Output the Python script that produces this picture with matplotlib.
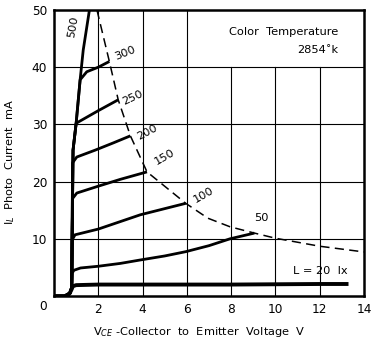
import matplotlib
matplotlib.use("Agg")
import matplotlib.pyplot as plt

# photo current curves (V in volts, I in mA)
v_20 = [0.0, 0.5, 0.7, 0.8, 0.85, 1.0, 2.0, 4.0, 6.0, 8.0, 10.0, 12.0, 13.3]
i_20 = [0.0, 0.0, 0.4, 1.2, 1.7, 1.9, 2.0, 2.0, 2.0, 2.0, 2.05, 2.1, 2.1]

v_50 = [0.5, 0.72, 0.8, 0.82, 0.9, 1.2, 2.0, 3.0, 3.9, 5.0, 5.95, 7.0, 7.95, 9.05]
i_50 = [0.0, 0.5, 1.5, 4.0, 4.5, 4.9, 5.2, 5.7, 6.3, 7.0, 7.75, 8.8, 10.0, 11.0]

v_100 = [0.5, 0.72, 0.8, 0.82, 0.95, 2.0, 3.9, 5.95]
i_100 = [0.0, 0.5, 1.5, 9.8, 10.7, 11.7, 14.2, 16.2]

v_150 = [0.5, 0.72, 0.8, 0.83, 1.03, 2.0, 3.0, 4.2]
i_150 = [0.0, 0.5, 1.5, 17.0, 18.0, 19.2, 20.4, 21.7]

v_200 = [0.5, 0.72, 0.8, 0.84, 1.03, 1.86, 2.7, 3.45]
i_200 = [0.0, 0.5, 1.5, 23.3, 24.3, 25.5, 26.8, 28.0]

v_250 = [0.5, 0.72, 0.8, 0.86, 1.0, 2.0, 2.9]
i_250 = [0.0, 0.5, 1.5, 25.5, 30.2, 32.4, 34.3]

v_300 = [0.5, 0.72, 0.8, 0.86, 1.0, 1.18, 1.48, 2.0, 2.5]
i_300 = [0.0, 0.5, 1.5, 25.5, 30.2, 37.8, 39.2, 40.0, 41.0]

v_500 = [0.5, 0.72, 0.8, 0.86, 1.0, 1.18, 1.32, 1.6]
i_500 = [0.0, 0.5, 1.5, 25.5, 30.2, 37.8, 43.0, 50.0]

# dashed dissipation limit
v_lim = [1.94, 2.5, 2.9, 3.45, 4.2, 5.95, 6.95, 7.95, 9.05, 10.0, 12.0, 14.0]
i_lim = [50.0, 41.0, 34.3, 28.0, 21.7, 16.2, 13.6, 12.1, 11.0, 10.1, 8.7, 7.7]

x_ticks = [2, 4, 6, 8, 10, 12, 14]
y_ticks = [10, 20, 30, 40, 50]

FONT = "DejaVu Sans"
FS = 8.2

fig = plt.figure(figsize=(3.74, 3.44), dpi=100)
ax = fig.add_axes([54 / 374, 48 / 344, 310 / 374, 286 / 344])
ax.set_xlim(0, 14)
ax.set_ylim(0, 50)

# grid: the top-right cell holds the caption, so 8/10/12 stop at 40
for x in [2, 4, 6]:
    ax.plot([x, x], [0, 50], color="black", lw=0.8, zorder=1)
for x in [8, 10, 12]:
    ax.plot([x, x], [0, 40], color="black", lw=0.8, zorder=1)
for y in [10, 20, 30, 40]:
    ax.plot([0, 14], [y, y], color="black", lw=0.8, zorder=1)

curves = [
    (v_20, i_20, 2.8),
    (v_50, i_50, 2.0),
    (v_100, i_100, 2.0),
    (v_150, i_150, 2.0),
    (v_200, i_200, 2.0),
    (v_250, i_250, 2.0),
    (v_300, i_300, 2.0),
    (v_500, i_500, 2.0),
]
for vs, cs, lw in curves:
    ax.plot(vs, cs, color="black", lw=lw, solid_capstyle="butt", zorder=3)

ax.plot(v_lim, i_lim, color="black", lw=1.1, dashes=(6, 3.5), zorder=2)

labels = [
    ("500", 0.87, 47.0, 80),
    ("300", 3.2, 42.5, 22),
    ("250", 3.55, 34.6, 25),
    ("200", 4.2, 28.7, 28),
    ("150", 5.0, 24.3, 30),
    ("100", 6.75, 17.7, 30),
    ("50", 9.35, 13.6, 0),
]
for text, x, y, rot in labels:
    ax.text(x, y, text, rotation=rot, ha="center", va="center",
            fontsize=FS, family=FONT, zorder=4)

ax.text(13.25, 4.4, "L = 20  lx", ha="right", va="center", fontsize=FS, family=FONT)
ax.text(12.85, 46.1, "Color  Temperature", ha="right", va="center", fontsize=FS, family=FONT)
ax.text(12.85, 43.0, "2854˚k", ha="right", va="center", fontsize=FS, family=FONT)

ax.set_xticks([0] + x_ticks)
ax.set_xticklabels([""] + [str(t) for t in x_ticks], fontsize=FS + 0.5, family=FONT)
ax.set_yticks(y_ticks)
ax.set_yticklabels([str(t) for t in y_ticks], fontsize=FS + 0.5, family=FONT)
ax.tick_params(length=0, pad=5)
ax.text(-0.5, -1.75, "0", ha="center", va="center", fontsize=FS + 0.5,
        family=FONT, clip_on=False)

for side in ax.spines.values():
    side.set_linewidth(1.8)

ax.set_xlabel("V$_{CE}$ -Collector  to  Emitter  Voltage  V", fontsize=FS, family=FONT)
ax.xaxis.set_label_coords(0.47, -0.1)
ax.set_ylabel("I$_L$  Photo  Current  mA", fontsize=FS, family=FONT)
ax.yaxis.set_label_coords(-0.12, 0.47)

fig.savefig("out.png", dpi=100)
